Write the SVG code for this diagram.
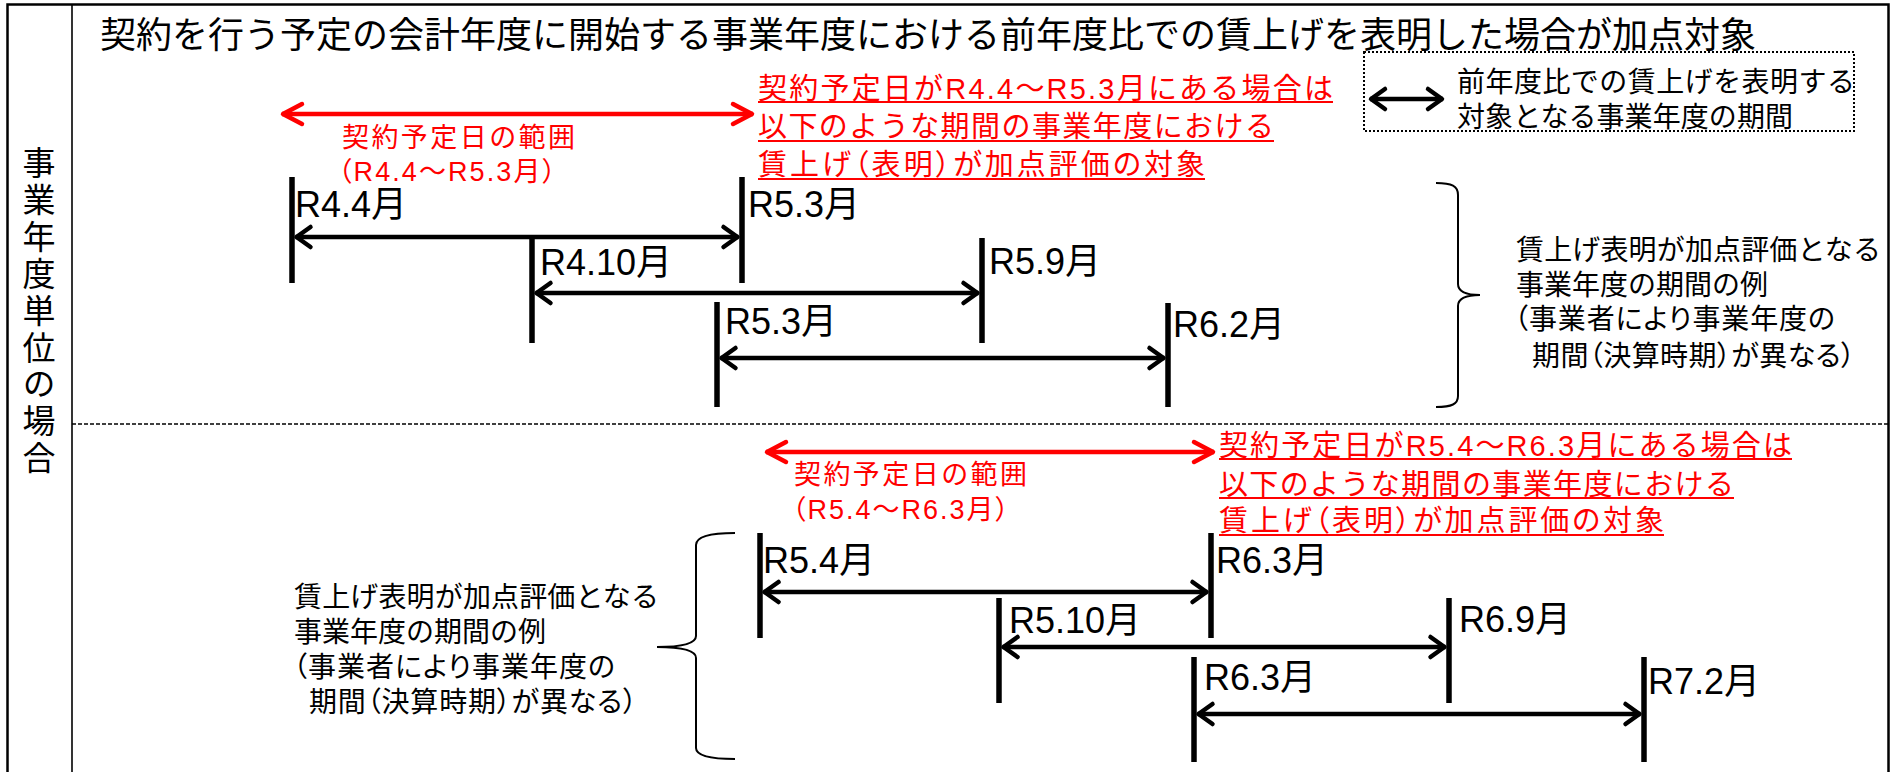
<svg xmlns="http://www.w3.org/2000/svg" width="1895" height="772" viewBox="0 0 1895 772">
<style>
.jp{font-family:"Noto Sans CJK JP","Noto Sans CJK SC",sans-serif;fill:#000}
.mix{font-family:"Liberation Sans","Noto Sans CJK JP","Noto Sans CJK SC",sans-serif;fill:#000}
.red{fill:#FF0000}
.palt{font-feature-settings:"palt" 1}
.lbl{font-family:"Liberation Sans","Noto Sans CJK JP",sans-serif;font-size:36px;fill:#000}
.bar{stroke:#000;stroke-width:5.5;fill:none}
.arr{stroke:#000;stroke-width:4.5;fill:none;marker-start:url(#ah);marker-end:url(#ah)}
.rarr{stroke:#FF0000;stroke-width:4.5;fill:none;marker-start:url(#rh);marker-end:url(#rh)}
.ul{stroke:#FF0000;stroke-width:2}
.brace{fill:none;stroke:#000;stroke-width:2}
</style>
<defs>
<marker id="ah" markerUnits="userSpaceOnUse" markerWidth="30" markerHeight="30" viewBox="-20 -15 30 30" refX="0" refY="0" orient="auto-start-reverse" overflow="visible">
<path d="M-15,-10 L-1,0 L-15,10" fill="none" stroke="#000" stroke-width="4.5" stroke-linecap="round" stroke-linejoin="round"/>
</marker>
<marker id="rh" markerUnits="userSpaceOnUse" markerWidth="30" markerHeight="30" viewBox="-25 -15 30 30" refX="0" refY="0" orient="auto-start-reverse" overflow="visible">
<path d="M-20,-10 L-1,0 L-20,10" fill="none" stroke="#FF0000" stroke-width="4.5" stroke-linecap="round" stroke-linejoin="round"/>
</marker>
</defs>
<rect width="1895" height="772" fill="#fff"/>
<g id="frame">
<rect x="7.5" y="4.5" width="1881" height="820" fill="none" stroke="#000" stroke-width="2.5"/>
<line x1="72" y1="5" x2="72" y2="772" stroke="#000" stroke-width="1.6"/>
<line x1="72" y1="424" x2="1888" y2="424" stroke="#000" stroke-width="1.5" stroke-dasharray="4 2"/>
</g>
<g id="side-label">
<text class="jp" x="39" y="146" font-size="33" writing-mode="vertical-rl" letter-spacing="3.9">事業年度単位の場合</text>
</g>
<g id="title">
<text class="jp" x="100" y="47.5" font-size="36" textLength="1656" lengthAdjust="spacing">契約を行う予定の会計年度に開始する事業年度における前年度比での賃上げを表明した場合が加点対象</text>
</g>
<g id="legend">
<rect x="1364" y="52" width="490" height="79" fill="none" stroke="#000" stroke-width="2" stroke-dasharray="2 2"/>
<line x1="1370" y1="99" x2="1443" y2="99" class="arr"/>
<text class="mix" x="1457" y="91.5" font-size="28" textLength="398" lengthAdjust="spacing">前年度比での賃上げを表明する</text>
<text class="mix" x="1457" y="127" font-size="28" textLength="336" lengthAdjust="spacing">対象となる事業年度の期間</text>
</g>
<g id="upper-range">
<text class="mix red" x="342" y="146.5" font-size="27" textLength="233" lengthAdjust="spacing">契約予定日の範囲</text>
<text class="mix red palt" x="338" y="181" font-size="27" textLength="218" lengthAdjust="spacing">（R4.4～R5.3月）</text>
</g>
<g id="upper-note">
<text class="mix red" x="758" y="98.5" font-size="29" textLength="575" lengthAdjust="spacing">契約予定日がR4.4～R5.3月にある場合は</text>
<line class="ul" x1="758" y1="102" x2="1333" y2="102"/>
<text class="mix red" x="758" y="137" font-size="29" textLength="516" lengthAdjust="spacing">以下のような期間の事業年度における</text>
<line class="ul" x1="758" y1="141" x2="1274" y2="141"/>
<text class="mix red palt" x="758" y="175" font-size="29" textLength="447" lengthAdjust="spacing">賃上げ（表明）が加点評価の対象</text>
<line class="ul" x1="758" y1="179" x2="1205" y2="179"/>
</g>
<g id="lower-range">
<text class="mix red" x="794" y="483.5" font-size="27" textLength="233" lengthAdjust="spacing">契約予定日の範囲</text>
<text class="mix red palt" x="792" y="519" font-size="27" textLength="217" lengthAdjust="spacing">（R5.4～R6.3月）</text>
</g>
<g id="lower-note">
<text class="mix red" x="1219" y="455.5" font-size="29" textLength="573" lengthAdjust="spacing">契約予定日がR5.4～R6.3月にある場合は</text>
<line class="ul" x1="1219" y1="459" x2="1792" y2="459"/>
<text class="mix red" x="1219" y="494.5" font-size="29" textLength="515" lengthAdjust="spacing">以下のような期間の事業年度における</text>
<line class="ul" x1="1219" y1="498" x2="1734" y2="498"/>
<text class="mix red palt" x="1219" y="531" font-size="29" textLength="445" lengthAdjust="spacing">賃上げ（表明）が加点評価の対象</text>
<line class="ul" x1="1219" y1="535" x2="1664" y2="535"/>
</g>
<g id="u-r44"><line class="bar" x1="292" y1="177" x2="292" y2="283"/><text class="lbl" x="295" y="217">R4.4月</text></g>
<g id="u-r53a"><line class="bar" x1="742" y1="177" x2="742" y2="283"/><text class="lbl" x="748" y="217">R5.3月</text></g>
<g id="u-r410"><line class="bar" x1="532" y1="238" x2="532" y2="343"/><text class="lbl" x="540" y="275">R4.10月</text></g>
<g id="u-r59"><line class="bar" x1="982" y1="238" x2="982" y2="343"/><text class="lbl" x="989" y="274">R5.9月</text></g>
<g id="u-r53b"><line class="bar" x1="717" y1="302" x2="717" y2="407"/><text class="lbl" x="725" y="334">R5.3月</text></g>
<g id="u-r62"><line class="bar" x1="1168" y1="303" x2="1168" y2="407"/><text class="lbl" x="1173" y="337">R6.2月</text></g>
<g id="l-r54"><line class="bar" x1="760" y1="533" x2="760" y2="638"/><text class="lbl" x="763" y="573">R5.4月</text></g>
<g id="l-r63a"><line class="bar" x1="1211" y1="533" x2="1211" y2="638"/><text class="lbl" x="1216" y="573">R6.3月</text></g>
<g id="l-r510"><line class="bar" x1="999" y1="598" x2="999" y2="703"/><text class="lbl" x="1009" y="633">R5.10月</text></g>
<g id="l-r69"><line class="bar" x1="1449" y1="598" x2="1449" y2="703"/><text class="lbl" x="1459" y="632">R6.9月</text></g>
<g id="l-r63b"><line class="bar" x1="1194" y1="657" x2="1194" y2="762"/><text class="lbl" x="1204" y="690">R6.3月</text></g>
<g id="l-r72"><line class="bar" x1="1644" y1="657" x2="1644" y2="762"/><text class="lbl" x="1648" y="694">R7.2月</text></g>
<g id="upper-brace">
<path class="brace" d="M1436,183 C1452,183 1458,186 1458,195 L1458,284 C1458,292 1466,295 1480,295 C1466,295 1458,298 1458,306 L1458,396 C1458,404 1452,407 1436,407"/>
<text class="mix" x="1516" y="260" font-size="28" textLength="365" lengthAdjust="spacing">賃上げ表明が加点評価となる</text>
<text class="mix" x="1516" y="294.5" font-size="28">事業年度の期間の例</text>
<text class="mix palt" x="1514" y="329" font-size="28" textLength="321" lengthAdjust="spacing">（事業者により事業年度の</text>
<text class="mix palt" x="1532" y="365.5" font-size="28" textLength="323" lengthAdjust="spacing">期間（決算時期）が異なる）</text>
</g>
<g id="lower-brace">
<path class="brace" d="M735,533 C713,533 696,536 696,545 L696,636 C696,644 680,647 657,647 C680,647 696,650 696,658 L696,748 C696,756 713,759 735,759"/>
<text class="mix" x="294" y="607" font-size="28" textLength="365" lengthAdjust="spacing">賃上げ表明が加点評価となる</text>
<text class="mix" x="294" y="642" font-size="28">事業年度の期間の例</text>
<text class="mix palt" x="293" y="677" font-size="28" textLength="322" lengthAdjust="spacing">（事業者により事業年度の</text>
<text class="mix palt" x="309" y="712" font-size="28" textLength="328" lengthAdjust="spacing">期間（決算時期）が異なる）</text>
</g>
<g id="connectors">
<line class="rarr" x1="282" y1="114" x2="753" y2="114"/>
<line class="rarr" x1="766" y1="452" x2="1214" y2="452"/>
<line class="arr" x1="295.5" y1="237" x2="738.5" y2="237"/>
<line class="arr" x1="535.5" y1="293" x2="978.5" y2="293"/>
<line class="arr" x1="720.5" y1="358" x2="1164.5" y2="358"/>
<line class="arr" x1="763.5" y1="592" x2="1207.5" y2="592"/>
<line class="arr" x1="1002.5" y1="647" x2="1445.5" y2="647"/>
<line class="arr" x1="1197.5" y1="714" x2="1640.5" y2="714"/>
</g>
</svg>
